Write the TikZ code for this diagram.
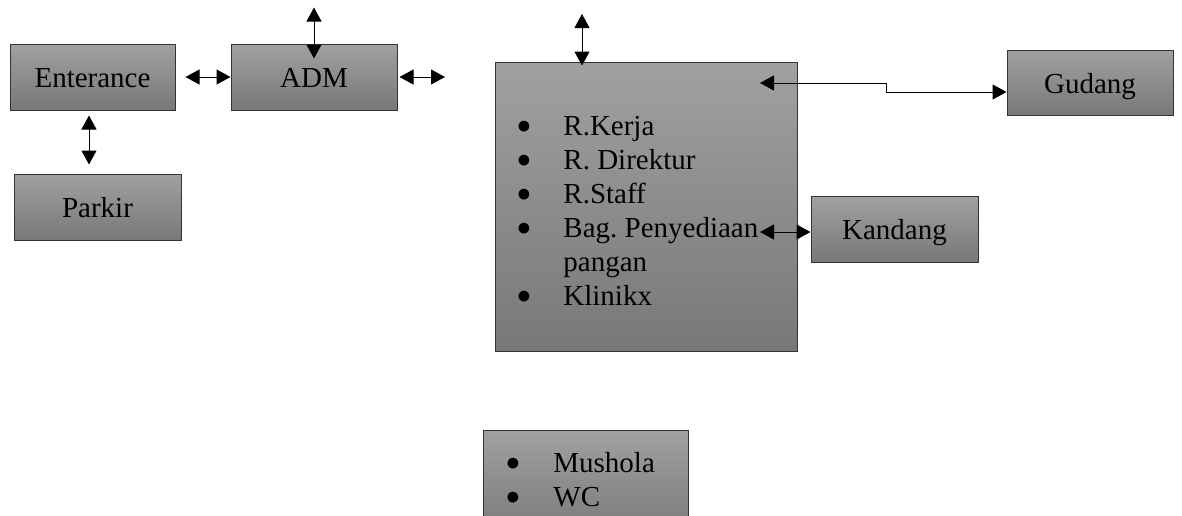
\documentclass[tikz,border=0pt]{standalone}
\usepackage{fontspec}
\setmainfont{Liberation Serif}
\usetikzlibrary{arrows.meta, calc}
\definecolor{boxtop}{gray}{0.63}
\definecolor{boxbot}{gray}{0.47}
\newcommand{\roomfont}{\fontsize{14.5}{17}\selectfont\frenchspacing}
\newcommand{\dotitem}{\smash{\raisebox{-3.3pt}{\scalebox{1.55}{\textbullet}}}}

\begin{document}
\begin{tikzpicture}[x=0.5pt, y=-0.5pt,
  room/.style={draw=black!80, line width=0.5pt, top color=boxtop, bottom color=boxbot, inner sep=0pt, text height=12pt, text depth=1.5pt, font=\roomfont},
  link/.style={line width=0.5pt, {Triangle[width=7.5pt,length=7pt]}-{Triangle[width=7.5pt,length=7pt]}}]
\useasboundingbox (0,0) rectangle (1182,515);
\clip (0,0) rectangle (1182,515);
% rooms
\node[room, minimum width=82.5pt, minimum height=33pt] (ent) at (92.5,77) {Enterance};
\node[room, minimum width=83pt, minimum height=33pt] (adm) at (314,77) {ADM};
\node[room, minimum width=83.5pt, minimum height=33pt] (parkir) at (97.5,207) {Parkir};
\node[room, minimum width=151pt, minimum height=144.5pt] (kantor) at (646,206.5) {};
\node[room, minimum width=83pt, minimum height=32.5pt] (gudang) at (1090,82.5) {Gudang};
\node[room, minimum width=83.5pt, minimum height=33pt] (kandang) at (894.5,229) {Kandang};
\node[room, minimum width=102.5pt, minimum height=55pt] (mushola) at (585.5,485) {};
% lists
\node[font=\roomfont, inner sep=0pt, anchor=north west] (kantorlist) at (516,111)
  {\begin{tabular}{@{}p{23.5pt}@{}l@{}}
   \dotitem & R.Kerja\\
   \dotitem & R. Direktur\\
   \dotitem & R.Staff\\
   \dotitem & Bag. Penyediaan\\
            & pangan\\
   \dotitem & Klinikx
   \end{tabular}};
\node[font=\roomfont, inner sep=0pt, anchor=north west] (musholalist) at (505,448)
  {\begin{tabular}{@{}p{24pt}@{}l@{}}
   \dotitem & Mushola\\
   \dotitem & WC
   \end{tabular}};
% connectors
\coordinate (admtop) at ([yshift=18pt]adm.north);
\coordinate (admr) at (445,77);
\coordinate (ktop) at (582,14);
\coordinate (gin) at (760,83);
\coordinate (kin) at (760,232);
\draw[link] ([xshift=5pt]ent.east) -- (adm.west);
\draw[link] ([xshift=1pt]adm.east) -- (admr);
\draw[link] (admtop) -- ([yshift=-7.5pt]adm.north);
\draw[link] ([xshift=-1.75pt,yshift=-2.5pt]ent.south) -- ($(ent.south |- parkir.north)+(-3.5,-9)$);
\draw[link] (ktop) -- ($(ktop |- kantor.north)+(0,4)$);
\draw[link] (gin) -- ++(126,0) |- ([yshift=-4.75pt]gudang.west);
\draw[link] (kin) -- (kandang.west |- kin);
\end{tikzpicture}
\end{document}
